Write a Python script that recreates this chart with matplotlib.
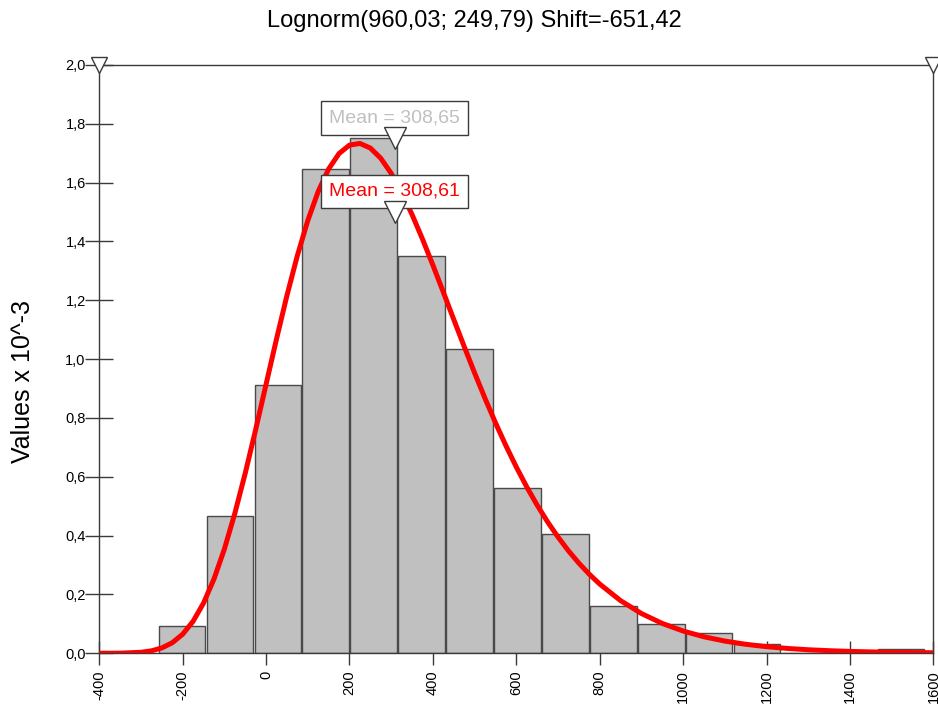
import matplotlib
matplotlib.use("Agg")
import matplotlib.pyplot as plt

plt.rcParams['font.family'] = ['Liberation Sans', 'DejaVu Sans']

# histogram (values x 10^-3), bins
bin_edges = [-259.0, -144.1, -29.2, 85.7, 200.6, 315.5, 430.4, 545.3, 660.2,
             775.1, 890.0, 1004.9, 1119.8, 1234.7, 1349.6, 1464.5, 1579.4]
bar_heights = [0.092, 0.468, 0.913, 1.646, 1.752, 1.350, 1.036, 0.563, 0.407,
               0.161, 0.101, 0.068, 0.033, 0.0, 0.0, 0.0136]

# fitted lognormal density (values x 10^-3)
curve_x = [-400, -350, -300, -275, -250, -225, -200, -175, -150, -125, -100, -75,
           -50, -25, 0, 25, 50, 75, 100, 125, 150, 175, 200, 225, 250, 275, 300,
           325, 350, 375, 400, 425, 450, 475, 500, 525, 550, 575, 600, 625, 650,
           675, 700, 725, 750, 775, 800, 850, 900, 950, 1000, 1050, 1100, 1150,
           1200, 1250, 1300, 1350, 1400, 1450, 1500, 1550, 1600]
curve_y = [0.0000, 0.0003, 0.0033, 0.0082, 0.0180, 0.0357, 0.0647, 0.1086, 0.1704,
           0.2521, 0.3540, 0.4749, 0.6117, 0.7600, 0.9143, 1.0682, 1.2159, 1.3517,
           1.4710, 1.5700, 1.6464, 1.6989, 1.7275, 1.7332, 1.7175, 1.6827, 1.6316,
           1.5668, 1.4914, 1.4081, 1.3193, 1.2275, 1.1347, 1.0427, 0.9529, 0.8662,
           0.7836, 0.7057, 0.6330, 0.5655, 0.5034, 0.4466, 0.3950, 0.3483, 0.3063,
           0.2687, 0.2352, 0.1789, 0.1351, 0.1013, 0.0756, 0.0560, 0.0414, 0.0305,
           0.0224, 0.0164, 0.0119, 0.0087, 0.0063, 0.0046, 0.0033, 0.0024, 0.0017]

mean_sim = 308.65
mean_fit = 308.61
title = "Lognorm(960,03; 249,79) Shift=-651,42"
x_ticks = [-400, -200, 0, 200, 400, 600, 800, 1000, 1200, 1400, 1600]
y_ticks = [0.0, 0.2, 0.4, 0.6, 0.8, 1.0, 1.2, 1.4, 1.6, 1.8, 2.0]

dark = '#3a3a3a'

fig = plt.figure(figsize=(9.38, 7.06), dpi=100)
ax = fig.add_axes([0.1058, 0.0747, 0.8893, 0.8333])
ax.set_xlim(x_ticks[0], x_ticks[-1])
ax.set_ylim(y_ticks[0], y_ticks[-1])
ax.set_axisbelow(True)

lefts = bin_edges[:-1]
widths = [b - a for a, b in zip(bin_edges[:-1], bin_edges[1:])]
gap = 3.0
ax.bar([l + gap / 2 for l in lefts], bar_heights, width=[w - gap for w in widths],
       align='edge', color='#c0c0c0', edgecolor='#4a4a4a', linewidth=1.0, zorder=1)

ax.plot(curve_x, curve_y, color='red', lw=3.6, zorder=3, solid_capstyle='butt')

# mean markers with labels
box = dict(boxstyle='square,pad=0.42', fc='white', ec=dark, lw=1.0)
ax.text(mean_sim, 1.820, "Mean = %s" % f"{mean_sim:.2f}".replace('.', ','),
        color='#c0c0c0', fontsize=14, ha='center', va='center', bbox=box, zorder=5)
ax.text(mean_fit, 1.570, "Mean = %s" % f"{mean_fit:.2f}".replace('.', ','),
        color='red', fontsize=14, ha='center', va='center', bbox=box, zorder=5)
ax.plot([mean_sim], [1.752], marker='v', ms=15.5, mfc='white', mec=dark, mew=1.0,
        ls='none', zorder=6)
ax.plot([mean_fit], [1.499], marker='v', ms=15.5, mfc='white', mec=dark, mew=1.0,
        ls='none', zorder=6)

# delimiter triangles at the top corners
ax.plot([x_ticks[0], x_ticks[-1]], [y_ticks[-1], y_ticks[-1]], marker='v', ms=11.5,
        mfc='white', mec=dark, mew=1.0, ls='none', zorder=6, clip_on=False)

for s in ax.spines.values():
    s.set_color(dark)
    s.set_linewidth(1.0)
    s.set_zorder(2.5)

ax.set_xticks(x_ticks)
ax.set_xticklabels([str(v) for v in x_ticks], rotation=90, fontsize=10.5)
ax.set_yticks(y_ticks)
ax.set_yticklabels([f"{v:.1f}".replace('.', ',') for v in y_ticks], fontsize=10.5)
ax.tick_params(axis='x', direction='inout', length=17, width=1.0, color=dark, pad=4)
ax.tick_params(axis='y', direction='inout', length=19.5, width=1.0, color=dark, pad=0)

fig.text(474 / 938, 1 - 21 / 706, title, fontsize=17, ha='center', va='center')
fig.text(23 / 938, 1 - 381.5 / 706, "Values x 10^-3", fontsize=18, rotation=90,
         ha='center', va='center')

fig.savefig("out.png", dpi=100)
